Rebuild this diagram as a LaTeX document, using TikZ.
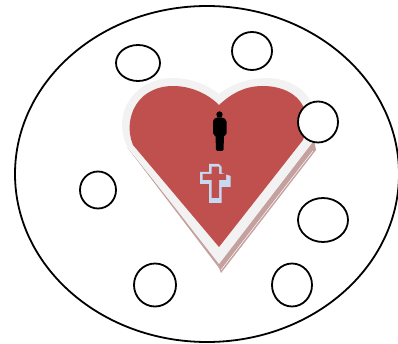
\documentclass[tikz,border=0pt]{standalone}
\usetikzlibrary{shapes.geometric}
\definecolor{cheart}{HTML}{C0504D}
\definecolor{crim}{HTML}{F2F2F2}
\definecolor{cshade}{HTML}{C4A09F}
\definecolor{ccross}{HTML}{C6D9F1}
\tikzset{
  spot/.style={ellipse, draw=black, fill=white, line width=1.8pt, inner sep=0pt, outer sep=0pt},
  world/.style={ellipse, draw=black, line width=1.8pt, inner sep=0pt, outer sep=0pt, minimum width=384pt, minimum height=336pt},
}
\begin{document}
\begin{tikzpicture}[x=1pt, y=-1pt]
  \useasboundingbox (0,0) rectangle (398,344);
  \node[world] (outer) at (207,174) {};

  % ---- heart: shadow, rim, face
  \fill[cshade] (127,147) -- (219,268) -- (221,273) -- (316,150) -- (314,140) -- (219,262) -- cycle;
  \draw[white, line width=0.5pt] (221,270) -- (313,151);
  \fill[crim] (219,94) .. controls (232,84) and (248,78) .. (267,78)
    .. controls (292,78) and (315,94) .. (315,118) .. controls (315,128) and (314,136) .. (312,143)
    -- (219,264) -- (127,146) .. controls (123,138) and (122,130) .. (122,122)
    .. controls (124,96) and (146,78) .. (173,78) .. controls (190,78) and (206,84) .. (219,94) -- cycle;
  \fill[cheart] (219,105) .. controls (232,93) and (245,86) .. (263,86)
    .. controls (285,86) and (305,97) .. (306,118) .. controls (306,128) and (305,134) .. (303,140)
    -- (219,247) -- (133,145) .. controls (130,138) and (129,130) .. (130,122)
    .. controls (133,100) and (150,86) .. (173,86) .. controls (190,86) and (207,93) .. (219,105) -- cycle;

  % ---- figure
  \fill[black] (219.5,114.5) circle (3.2);
  \fill[black, rounded corners=1.5pt] (213,135) -- (213,120) -- (216,117.5) -- (223,117.5) -- (226.5,120) -- (226.5,135)
    -- (224,135) -- (223.5,151) -- (216,151) -- (215.5,135) -- cycle;

  % ---- cross
  \fill[ccross] (209,164) -- (219,164) -- (221.7,167) -- (221.7,173) -- (230.7,176) -- (230.7,187) -- (221.7,187) -- (221.7,203)
    -- (209,203) -- (209,184) -- (200,184) -- (200,172) -- (209,172) -- cycle;
  \fill[cheart] (211.7,166.7) -- (219,166.7) -- (219,174) -- (226,174) -- (226,180) -- (219,180) -- (219,198)
    -- (211.7,198) -- (211.7,180) -- (202.7,180) -- (202.7,174) -- (211.7,174) -- cycle;

  % ---- spots round the heart
  \foreach \name/\x/\y/\w/\h in {a/138/63/44/36, b/252/51/40/38, c/318/122/40/41, d/98/190/36/37,
                                 e/323/220/50/44, f/155/285/42/43, g/292/285/40/43}
    { \node[spot, minimum width=\w pt, minimum height=\h pt] (spot\name) at (\x,\y) {}; }
\end{tikzpicture}
\end{document}
